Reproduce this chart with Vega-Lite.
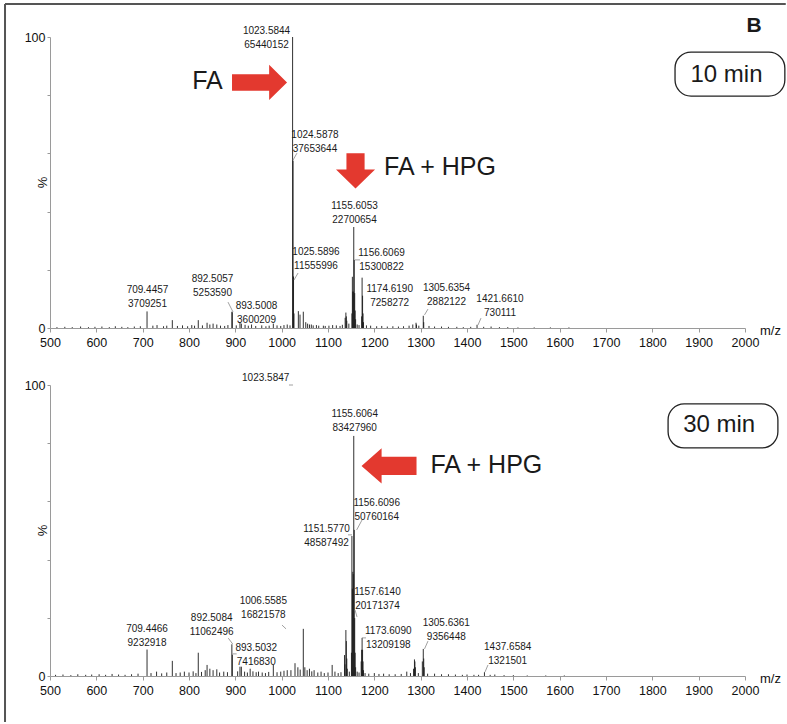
{
  "$schema": "https://vega.github.io/schema/vega-lite/v6.json",
  "padding": {"left": 4, "top": 3, "right": 0, "bottom": 1},
  "background": "white",
  "bounds": "flush",
  "spacing": 57,
  "config": {"view": {"stroke": null}, "font": "Liberation Sans"},
  "datasets": {
    "peaks": [
      {"panel":"10 min","mz":515,"pct":0.3},{"panel":"10 min","mz":532,"pct":0.4},{"panel":"10 min","mz":548,"pct":0.3},{"panel":"10 min","mz":566,"pct":0.5},{"panel":"10 min","mz":583,"pct":0.3},{"panel":"10 min","mz":597,"pct":0.4},{"panel":"10 min","mz":612,"pct":0.5},{"panel":"10 min","mz":628,"pct":0.3},{"panel":"10 min","mz":641,"pct":0.6},{"panel":"10 min","mz":655,"pct":0.4},{"panel":"10 min","mz":668,"pct":0.3},{"panel":"10 min","mz":682,"pct":0.5},{"panel":"10 min","mz":695,"pct":0.6},{"panel":"10 min","mz":709.4457,"pct":5.7},{"panel":"10 min","mz":722,"pct":0.8},{"panel":"10 min","mz":731,"pct":1.0},{"panel":"10 min","mz":745,"pct":0.6},{"panel":"10 min","mz":752,"pct":0.8},{"panel":"10 min","mz":764,"pct":2.7},{"panel":"10 min","mz":775,"pct":0.7},{"panel":"10 min","mz":786,"pct":0.9},{"panel":"10 min","mz":797,"pct":0.6},{"panel":"10 min","mz":806,"pct":1.0},{"panel":"10 min","mz":812,"pct":0.8},{"panel":"10 min","mz":820,"pct":2.7},{"panel":"10 min","mz":829,"pct":0.9},{"panel":"10 min","mz":839,"pct":1.8},{"panel":"10 min","mz":845,"pct":1.2},{"panel":"10 min","mz":852,"pct":1.5},{"panel":"10 min","mz":860,"pct":1.2},{"panel":"10 min","mz":868,"pct":0.8},{"panel":"10 min","mz":877,"pct":0.7},{"panel":"10 min","mz":884,"pct":1.0},{"panel":"10 min","mz":892.5057,"pct":5.6},{"panel":"10 min","mz":893.5008,"pct":5.4},{"panel":"10 min","mz":902,"pct":0.9},{"panel":"10 min","mz":910,"pct":2.0},{"panel":"10 min","mz":913,"pct":1.5},{"panel":"10 min","mz":921,"pct":1.1},{"panel":"10 min","mz":928,"pct":0.8},{"panel":"10 min","mz":935,"pct":1.2},{"panel":"10 min","mz":944,"pct":0.7},{"panel":"10 min","mz":957,"pct":0.9},{"panel":"10 min","mz":966,"pct":0.6},{"panel":"10 min","mz":973,"pct":0.8},{"panel":"10 min","mz":982,"pct":1.5},{"panel":"10 min","mz":990,"pct":0.9},{"panel":"10 min","mz":998,"pct":0.7},{"panel":"10 min","mz":1005,"pct":1.0},{"panel":"10 min","mz":1012,"pct":1.2},{"panel":"10 min","mz":1018,"pct":0.9},{"panel":"10 min","mz":1023.5844,"pct":100},{"panel":"10 min","mz":1024.5878,"pct":57.5},{"panel":"10 min","mz":1025.5896,"pct":17.7},{"panel":"10 min","mz":1026.6,"pct":5.0},{"panel":"10 min","mz":1036,"pct":5.8},{"panel":"10 min","mz":1039.6,"pct":4.6},{"panel":"10 min","mz":1046.7,"pct":5.6},{"panel":"10 min","mz":1052,"pct":2.0},{"panel":"10 min","mz":1056,"pct":1.5},{"panel":"10 min","mz":1060,"pct":1.2},{"panel":"10 min","mz":1064,"pct":1.2},{"panel":"10 min","mz":1068,"pct":0.9},{"panel":"10 min","mz":1075,"pct":1.0},{"panel":"10 min","mz":1080,"pct":0.8},{"panel":"10 min","mz":1090,"pct":0.8},{"panel":"10 min","mz":1094,"pct":0.7},{"panel":"10 min","mz":1102,"pct":0.8},{"panel":"10 min","mz":1110,"pct":1.0},{"panel":"10 min","mz":1118,"pct":0.9},{"panel":"10 min","mz":1126,"pct":0.7},{"panel":"10 min","mz":1131,"pct":1.1},{"panel":"10 min","mz":1137,"pct":3.5},{"panel":"10 min","mz":1138.6,"pct":5.3},{"panel":"10 min","mz":1139.6,"pct":4.0},{"panel":"10 min","mz":1140.6,"pct":2.5},{"panel":"10 min","mz":1145,"pct":1.5},{"panel":"10 min","mz":1151.6,"pct":5.0},{"panel":"10 min","mz":1152.6,"pct":17.6},{"panel":"10 min","mz":1153.6,"pct":12.5},{"panel":"10 min","mz":1154.6,"pct":12.5},{"panel":"10 min","mz":1155.6053,"pct":34.7},{"panel":"10 min","mz":1156.6069,"pct":23.4},{"panel":"10 min","mz":1157.6,"pct":12.0},{"panel":"10 min","mz":1158.6,"pct":6.0},{"panel":"10 min","mz":1159.6,"pct":3.0},{"panel":"10 min","mz":1163,"pct":1.2},{"panel":"10 min","mz":1167,"pct":1.0},{"panel":"10 min","mz":1172.6,"pct":4.0},{"panel":"10 min","mz":1173.6,"pct":17.3},{"panel":"10 min","mz":1174.619,"pct":11.1},{"panel":"10 min","mz":1175.6,"pct":5.0},{"panel":"10 min","mz":1176.6,"pct":2.0},{"panel":"10 min","mz":1183,"pct":0.9},{"panel":"10 min","mz":1192,"pct":0.8},{"panel":"10 min","mz":1205,"pct":0.6},{"panel":"10 min","mz":1216,"pct":0.7},{"panel":"10 min","mz":1228,"pct":0.5},{"panel":"10 min","mz":1240,"pct":0.6},{"panel":"10 min","mz":1252,"pct":0.5},{"panel":"10 min","mz":1263,"pct":0.6},{"panel":"10 min","mz":1275,"pct":0.8},{"panel":"10 min","mz":1283,"pct":1.2},{"panel":"10 min","mz":1290,"pct":1.8},{"panel":"10 min","mz":1291,"pct":1.2},{"panel":"10 min","mz":1296,"pct":0.8},{"panel":"10 min","mz":1305.6354,"pct":4.2},{"panel":"10 min","mz":1306.6,"pct":2.0},{"panel":"10 min","mz":1318,"pct":0.7},{"panel":"10 min","mz":1330,"pct":0.5},{"panel":"10 min","mz":1345,"pct":0.5},{"panel":"10 min","mz":1360,"pct":0.4},{"panel":"10 min","mz":1378,"pct":0.4},{"panel":"10 min","mz":1392,"pct":0.3},{"panel":"10 min","mz":1408,"pct":0.4},{"panel":"10 min","mz":1421.661,"pct":1.1},{"panel":"10 min","mz":1436,"pct":0.4},{"panel":"10 min","mz":1452,"pct":0.5},{"panel":"10 min","mz":1470,"pct":0.3},{"panel":"10 min","mz":1488,"pct":0.3},{"panel":"10 min","mz":1510,"pct":0.2},{"panel":"10 min","mz":1545,"pct":0.2},{"panel":"10 min","mz":1580,"pct":0.2},{"panel":"10 min","mz":1620,"pct":0.2},
      {"panel":"30 min","mz":512,"pct":0.4},{"panel":"30 min","mz":528,"pct":0.5},{"panel":"30 min","mz":545,"pct":0.3},{"panel":"30 min","mz":560,"pct":0.6},{"panel":"30 min","mz":577,"pct":0.4},{"panel":"30 min","mz":590,"pct":0.5},{"panel":"30 min","mz":606,"pct":0.6},{"panel":"30 min","mz":620,"pct":0.4},{"panel":"30 min","mz":634,"pct":0.7},{"panel":"30 min","mz":648,"pct":0.5},{"panel":"30 min","mz":662,"pct":0.4},{"panel":"30 min","mz":676,"pct":0.6},{"panel":"30 min","mz":690,"pct":0.8},{"panel":"30 min","mz":709.4466,"pct":9.1},{"panel":"30 min","mz":718,"pct":1.0},{"panel":"30 min","mz":730,"pct":1.5},{"panel":"30 min","mz":741,"pct":0.9},{"panel":"30 min","mz":752,"pct":1.2},{"panel":"30 min","mz":764,"pct":5.2},{"panel":"30 min","mz":772,"pct":1.0},{"panel":"30 min","mz":781,"pct":1.2},{"panel":"30 min","mz":790,"pct":1.5},{"panel":"30 min","mz":800,"pct":1.2},{"panel":"30 min","mz":809,"pct":1.6},{"panel":"30 min","mz":815,"pct":1.0},{"panel":"30 min","mz":820,"pct":8.0},{"panel":"30 min","mz":827,"pct":1.4},{"panel":"30 min","mz":835,"pct":2.0},{"panel":"30 min","mz":839,"pct":3.8},{"panel":"30 min","mz":845,"pct":2.5},{"panel":"30 min","mz":852,"pct":2.0},{"panel":"30 min","mz":860,"pct":2.3},{"panel":"30 min","mz":866,"pct":1.2},{"panel":"30 min","mz":875,"pct":1.5},{"panel":"30 min","mz":883,"pct":1.3},{"panel":"30 min","mz":892.5084,"pct":10.9},{"panel":"30 min","mz":893.5032,"pct":7.3},{"panel":"30 min","mz":905,"pct":1.6},{"panel":"30 min","mz":910,"pct":3.2},{"panel":"30 min","mz":913,"pct":3.2},{"panel":"30 min","mz":920,"pct":1.5},{"panel":"30 min","mz":926,"pct":1.2},{"panel":"30 min","mz":932,"pct":2.5},{"panel":"30 min","mz":938,"pct":1.6},{"panel":"30 min","mz":945,"pct":1.3},{"panel":"30 min","mz":950,"pct":1.5},{"panel":"30 min","mz":958,"pct":1.2},{"panel":"30 min","mz":965,"pct":1.0},{"panel":"30 min","mz":972,"pct":1.4},{"panel":"30 min","mz":982,"pct":3.8},{"panel":"30 min","mz":990,"pct":1.3},{"panel":"30 min","mz":998,"pct":1.5},{"panel":"30 min","mz":1005,"pct":1.8},{"panel":"30 min","mz":1012,"pct":2.0},{"panel":"30 min","mz":1020,"pct":2.0},{"panel":"30 min","mz":1028.8,"pct":4.4},{"panel":"30 min","mz":1035,"pct":3.0},{"panel":"30 min","mz":1040,"pct":2.2},{"panel":"30 min","mz":1046.7,"pct":16.2},{"panel":"30 min","mz":1050,"pct":3.0},{"panel":"30 min","mz":1055,"pct":2.0},{"panel":"30 min","mz":1060,"pct":2.5},{"panel":"30 min","mz":1065,"pct":1.6},{"panel":"30 min","mz":1070,"pct":2.0},{"panel":"30 min","mz":1078,"pct":1.2},{"panel":"30 min","mz":1085,"pct":1.5},{"panel":"30 min","mz":1092,"pct":1.0},{"panel":"30 min","mz":1100,"pct":1.2},{"panel":"30 min","mz":1109,"pct":3.8},{"panel":"30 min","mz":1115,"pct":1.5},{"panel":"30 min","mz":1122,"pct":1.0},{"panel":"30 min","mz":1128,"pct":1.3},{"panel":"30 min","mz":1135.6,"pct":7.2},{"panel":"30 min","mz":1136.6,"pct":4.0},{"panel":"30 min","mz":1138.6,"pct":15.8},{"panel":"30 min","mz":1139.6,"pct":12.0},{"panel":"30 min","mz":1140.6,"pct":6.0},{"panel":"30 min","mz":1141.6,"pct":2.5},{"panel":"30 min","mz":1146,"pct":1.5},{"panel":"30 min","mz":1150.6,"pct":8.0},{"panel":"30 min","mz":1151.577,"pct":48.1},{"panel":"30 min","mz":1152.6,"pct":30.0},{"panel":"30 min","mz":1153.6,"pct":35.8},{"panel":"30 min","mz":1154.6,"pct":35.0},{"panel":"30 min","mz":1155.6064,"pct":82.5},{"panel":"30 min","mz":1156.6096,"pct":50.2},{"panel":"30 min","mz":1157.614,"pct":19.9},{"panel":"30 min","mz":1158.6,"pct":8.0},{"panel":"30 min","mz":1159.6,"pct":3.0},{"panel":"30 min","mz":1163,"pct":1.5},{"panel":"30 min","mz":1167,"pct":1.2},{"panel":"30 min","mz":1171.6,"pct":5.0},{"panel":"30 min","mz":1172.6,"pct":9.0},{"panel":"30 min","mz":1173.609,"pct":13.1},{"panel":"30 min","mz":1174.6,"pct":9.0},{"panel":"30 min","mz":1175.6,"pct":5.0},{"panel":"30 min","mz":1176.6,"pct":2.0},{"panel":"30 min","mz":1180,"pct":1.0},{"panel":"30 min","mz":1188,"pct":0.8},{"panel":"30 min","mz":1200,"pct":1.0},{"panel":"30 min","mz":1210,"pct":0.7},{"panel":"30 min","mz":1220,"pct":0.8},{"panel":"30 min","mz":1232,"pct":0.6},{"panel":"30 min","mz":1245,"pct":0.6},{"panel":"30 min","mz":1258,"pct":0.7},{"panel":"30 min","mz":1270,"pct":1.5},{"panel":"30 min","mz":1278,"pct":1.0},{"panel":"30 min","mz":1284.6,"pct":2.5},{"panel":"30 min","mz":1286.6,"pct":5.7},{"panel":"30 min","mz":1287.6,"pct":5.0},{"panel":"30 min","mz":1288.6,"pct":3.0},{"panel":"30 min","mz":1295,"pct":1.0},{"panel":"30 min","mz":1303.6,"pct":5.0},{"panel":"30 min","mz":1305.6361,"pct":9.3},{"panel":"30 min","mz":1306.6,"pct":6.0},{"panel":"30 min","mz":1307.6,"pct":3.0},{"panel":"30 min","mz":1315,"pct":0.8},{"panel":"30 min","mz":1330,"pct":0.8},{"panel":"30 min","mz":1345,"pct":0.6},{"panel":"30 min","mz":1360,"pct":0.6},{"panel":"30 min","mz":1375,"pct":0.5},{"panel":"30 min","mz":1390,"pct":0.4},{"panel":"30 min","mz":1400,"pct":0.5},{"panel":"30 min","mz":1415,"pct":0.4},{"panel":"30 min","mz":1425,"pct":0.4},{"panel":"30 min","mz":1437.6584,"pct":1.3},{"panel":"30 min","mz":1450,"pct":0.4},{"panel":"30 min","mz":1460,"pct":0.5},{"panel":"30 min","mz":1480,"pct":0.3},{"panel":"30 min","mz":1500,"pct":0.3},{"panel":"30 min","mz":1530,"pct":0.2},{"panel":"30 min","mz":1570,"pct":0.2},{"panel":"30 min","mz":1610,"pct":0.2}
    ],
    "labels": [
      {"panel":"10 min","mz_text":"1023.5844","int_text":"65440152","lx":967.3,"ly":102.2},
      {"panel":"10 min","mz_text":"1024.5878","int_text":"37653644","lx":1071.9,"ly":66.3},
      {"panel":"10 min","mz_text":"1155.6053","int_text":"22700654","lx":1157.2,"ly":42.0},
      {"panel":"10 min","mz_text":"1025.5896","int_text":"11555996","lx":1074.1,"ly":26.2},
      {"panel":"10 min","mz_text":"1156.6069","int_text":"15300822","lx":1215.5,"ly":25.8},
      {"panel":"10 min","mz_text":"1174.6190","int_text":"7258272","lx":1233.2,"ly":13.4},
      {"panel":"10 min","mz_text":"1305.6354","int_text":"2882122","lx":1355.8,"ly":13.6},
      {"panel":"10 min","mz_text":"1421.6610","int_text":"730111","lx":1471.2,"ly":9.9},
      {"panel":"10 min","mz_text":"709.4457","int_text":"3709251","lx":710.4,"ly":13.1},
      {"panel":"10 min","mz_text":"892.5057","int_text":"5253590","lx":850.7,"ly":16.8},
      {"panel":"10 min","mz_text":"893.5008","int_text":"3600209","lx":945.7,"ly":7.6},
      {"panel":"30 min","mz_text":"1023.5847","int_text":"","lx":965.5,"ly":102.3},
      {"panel":"30 min","mz_text":"1155.6064","int_text":"83427960","lx":1157.6,"ly":89.9},
      {"panel":"30 min","mz_text":"1156.6096","int_text":"50760164","lx":1205.1,"ly":59.3},
      {"panel":"30 min","mz_text":"1151.5770","int_text":"48587492","lx":1096.8,"ly":50.5},
      {"panel":"30 min","mz_text":"1157.6140","int_text":"20171374","lx":1206.8,"ly":29.0},
      {"panel":"30 min","mz_text":"1173.6090","int_text":"13209198","lx":1230.1,"ly":15.6},
      {"panel":"30 min","mz_text":"1305.6361","int_text":"9356448","lx":1355.3,"ly":18.1},
      {"panel":"30 min","mz_text":"1437.6584","int_text":"1321501","lx":1487.8,"ly":10.1},
      {"panel":"30 min","mz_text":"709.4466","int_text":"9232918","lx":709.4,"ly":16.2},
      {"panel":"30 min","mz_text":"892.5084","int_text":"11062496","lx":849.0,"ly":19.8},
      {"panel":"30 min","mz_text":"893.5032","int_text":"7416830","lx":945.2,"ly":9.7},
      {"panel":"30 min","mz_text":"1006.5585","int_text":"16821578","lx":960.4,"ly":25.8}
    ],
    "leaders": [
      {"panel":"10 min","x1":1024.5,"y1":57.7,"x2":1033.1,"y2":60.1},
      {"panel":"10 min","x1":1026.6,"y1":16.5,"x2":1035.4,"y2":18.9},
      {"panel":"10 min","x1":1158.3,"y1":23.4,"x2":1169.1,"y2":23.4},
      {"panel":"10 min","x1":884.2,"y1":8.9,"x2":895.0,"y2":5.5},
      {"panel":"10 min","x1":1308.3,"y1":4.5,"x2":1315.8,"y2":6.5},
      {"panel":"10 min","x1":1423.7,"y1":1.0,"x2":1430.2,"y2":3.4},
      {"panel":"30 min","x1":1015.8,"y1":100.0,"x2":1024.5,"y2":100.0},
      {"panel":"30 min","x1":1161.9,"y1":50.2,"x2":1173.4,"y2":53.6},
      {"panel":"30 min","x1":1143.2,"y1":48.5,"x2":1151.8,"y2":48.5},
      {"panel":"30 min","x1":1162.6,"y1":20.3,"x2":1158.3,"y2":22.7},
      {"panel":"30 min","x1":1182.0,"y1":13.1,"x2":1173.4,"y2":13.1},
      {"panel":"30 min","x1":1308.3,"y1":9.3,"x2":1315.8,"y2":12.0},
      {"panel":"30 min","x1":1438.9,"y1":1.4,"x2":1445.3,"y2":3.8},
      {"panel":"30 min","x1":884.8,"y1":13.0,"x2":894.3,"y2":11.0},
      {"panel":"30 min","x1":894.3,"y1":7.6,"x2":902.9,"y2":7.6},
      {"panel":"30 min","x1":1000.7,"y1":17.5,"x2":1009.4,"y2":16.2}
    ],
    "arrows": [
      {"panel":"10 min","dir":"right","x":952.2,"y":84.4},
      {"panel":"10 min","dir":"down","x":1159.4,"y":54.0},
      {"panel":"30 min","dir":"left","x":1231.7,"y":72.2}
    ],
    "notes": [
      {"panel":"10 min","role":"species","text":"FA","x":839.9,"y":84.9},
      {"panel":"10 min","role":"species","text":"FA + HPG","x":1341.7,"y":55.2},
      {"panel":"10 min","role":"time","text":"10 min","x":1960.1,"y":87.1},
      {"panel":"10 min","role":"letter","text":"B","x":2019.4,"y":103.9},
      {"panel":"30 min","role":"species","text":"FA + HPG","x":1441.7,"y":72.5},
      {"panel":"30 min","role":"time","text":"30 min","x":1944.3,"y":86.2}
    ],
    "boxes": [
      {"panel":"10 min","x1":1849,"x2":2086,"y1":94.8,"y2":79.7},
      {"panel":"30 min","x1":1834,"x2":2071,"y1":93.5,"y2":78.4}
    ],
    "frame": [
      {"side":"top","x1":402.9,"x2":2088.0,"y1":111.3,"y2":111.3},
      {"side":"left","x1":402.9,"x2":402.9,"y1":111.3,"y2":-135.4}
    ]
  },
  "vconcat": [
    {
      "width": 695, "height": 291,
      "layer": [
        {"data":{"name":"peaks"},"transform":[{"filter":"datum.panel == '10 min'"}],
         "mark":{"type":"rule","color":"#1a1a1a","strokeWidth":0.9},
         "encoding":{
           "x":{"field":"mz","type":"quantitative","scale":{"domain":[500,2000],"nice":false,"zero":false},
                "axis":{"values":[500,600,700,800,900,1000,1100,1200,1300,1400,1500,1600,1700,1800,1900,2000],"format":"d","title":"m/z","titleX":720,"titleY":2,"titleAlign":"center","titleBaseline":"middle","titleFontWeight":"normal","titleFontSize":13,"titleFont":"Liberation Sans","titleColor":"#111","labelFont":"Liberation Sans","labelFontSize":12.5,"labelColor":"#111","domainColor":"#9a9a9a","tickColor":"#9a9a9a","tickSize":4,"labelPadding":4,"grid":false,"labelFlush":false,"labelOverlap":false}},
           "y":{"field":"pct","type":"quantitative","scale":{"domain":[0,100],"nice":false},
                "axis":{"values":[0,10,20,30,40,50,60,70,80,90,100],"labelExpr":"datum.value == 0 || datum.value == 100 ? datum.label : ''","title":"%","titleX":-8,"titleY":145,"titleAlign":"center","titleBaseline":"middle","titleFontWeight":"normal","titleFontSize":13,"titleFont":"Liberation Sans","titleColor":"#111","labelFont":"Liberation Sans","labelFontSize":12.5,"labelColor":"#111","domainColor":"#9a9a9a","tickColor":"#9a9a9a","tickSize":3,"labelPadding":2,"grid":false}},
           "y2":{"datum":0}}},
        {"data":{"name":"frame"},
         "mark":{"type":"rule","color":"#555","strokeWidth":2},
         "encoding":{"x":{"field":"x1","type":"quantitative","scale":{"domain":[500,2000],"nice":false,"zero":false}},"x2":{"field":"x2"},"y":{"field":"y1","type":"quantitative","scale":{"domain":[0,100],"nice":false}},"y2":{"field":"y2"}}},
        {"data":{"name":"boxes"},"transform":[{"filter":"datum.panel == '10 min'"}],
         "mark":{"type":"rect","cornerRadius":16,"fill":"white","stroke":"#222","strokeWidth":1.3},
         "encoding":{"x":{"field":"x1","type":"quantitative","scale":{"domain":[500,2000],"nice":false,"zero":false}},"x2":{"field":"x2"},"y":{"field":"y1","type":"quantitative","scale":{"domain":[0,100],"nice":false}},"y2":{"field":"y2"}}},
        {"data":{"name":"leaders"},"transform":[{"filter":"datum.panel == '10 min'"}],
         "mark":{"type":"rule","color":"#888","strokeWidth":0.8},
         "encoding":{"x":{"field":"x1","type":"quantitative","scale":{"domain":[500,2000],"nice":false,"zero":false}},"x2":{"field":"x2"},"y":{"field":"y1","type":"quantitative","scale":{"domain":[0,100],"nice":false}},"y2":{"field":"y2"}}},
        {"data":{"name":"labels"},"transform":[{"filter":"datum.panel == '10 min'"}],
         "mark":{"type":"text","font":"Liberation Sans","fontSize":10,"color":"#1a1a1a","align":"center","baseline":"middle"},
         "encoding":{"x":{"field":"lx","type":"quantitative","scale":{"domain":[500,2000],"nice":false,"zero":false}},"y":{"field":"ly","type":"quantitative","scale":{"domain":[0,100],"nice":false}},"text":{"field":"mz_text","type":"nominal"}}},
        {"data":{"name":"labels"},"transform":[{"filter":"datum.panel == '10 min'"}],
         "mark":{"type":"text","font":"Liberation Sans","fontSize":10,"color":"#1a1a1a","align":"center","baseline":"middle","dy":14},
         "encoding":{"x":{"field":"lx","type":"quantitative","scale":{"domain":[500,2000],"nice":false,"zero":false}},"y":{"field":"ly","type":"quantitative","scale":{"domain":[0,100],"nice":false}},"text":{"field":"int_text","type":"nominal"}}},
        {"data":{"name":"arrows"},"transform":[{"filter":"datum.panel == '10 min'"}],
         "mark":{"type":"point","filled":true,"size":3025,"color":"#e3392f","opacity":1,"strokeWidth":0},
         "encoding":{"x":{"field":"x","type":"quantitative","scale":{"domain":[500,2000],"nice":false,"zero":false}},"y":{"field":"y","type":"quantitative","scale":{"domain":[0,100],"nice":false}},
           "shape":{"field":"dir","type":"nominal","legend":null,"scale":{"domain":["right","down","left"],"range":["M-1,-0.3 L0.35,-0.3 L0.35,-0.64 L1,0 L0.35,0.64 L0.35,0.3 L-1,0.3 Z","M-0.33,-0.64 L0.33,-0.64 L0.33,-0.05 L0.71,-0.05 L0,0.64 L-0.71,-0.05 L-0.33,-0.05 Z","M1,-0.33 L-0.27,-0.33 L-0.27,-0.64 L-1,0 L-0.27,0.64 L-0.27,0.33 L1,0.33 Z"]}}}},
        {"data":{"name":"notes"},"transform":[{"filter":"datum.panel == '10 min' && datum.role == 'species'"}],
         "mark":{"type":"text","font":"Liberation Sans","fontSize":25,"color":"#1a1a1a","align":"center","baseline":"middle"},
         "encoding":{"x":{"field":"x","type":"quantitative","scale":{"domain":[500,2000],"nice":false,"zero":false}},"y":{"field":"y","type":"quantitative","scale":{"domain":[0,100],"nice":false}},"text":{"field":"text","type":"nominal"}}},
        {"data":{"name":"notes"},"transform":[{"filter":"datum.panel == '10 min' && datum.role == 'time'"}],
         "mark":{"type":"text","font":"Liberation Sans","fontSize":24,"color":"#1a1a1a","align":"center","baseline":"middle"},
         "encoding":{"x":{"field":"x","type":"quantitative","scale":{"domain":[500,2000],"nice":false,"zero":false}},"y":{"field":"y","type":"quantitative","scale":{"domain":[0,100],"nice":false}},"text":{"field":"text","type":"nominal"}}},
        {"data":{"name":"notes"},"transform":[{"filter":"datum.panel == '10 min' && datum.role == 'letter'"}],
         "mark":{"type":"text","font":"Liberation Sans","fontSize":21,"fontWeight":"bold","color":"#1a1a1a","align":"center","baseline":"middle"},
         "encoding":{"x":{"field":"x","type":"quantitative","scale":{"domain":[500,2000],"nice":false,"zero":false}},"y":{"field":"y","type":"quantitative","scale":{"domain":[0,100],"nice":false}},"text":{"field":"text","type":"nominal"}}}
      ]
    },
    {
      "width": 695, "height": 291,
      "layer": [
        {"data":{"name":"peaks"},"transform":[{"filter":"datum.panel == '30 min'"}],
         "mark":{"type":"rule","color":"#1a1a1a","strokeWidth":0.9},
         "encoding":{
           "x":{"field":"mz","type":"quantitative","scale":{"domain":[500,2000],"nice":false,"zero":false},
                "axis":{"values":[500,600,700,800,900,1000,1100,1200,1300,1400,1500,1600,1700,1800,1900,2000],"format":"d","title":"m/z","titleX":720,"titleY":2,"titleAlign":"center","titleBaseline":"middle","titleFontWeight":"normal","titleFontSize":13,"titleFont":"Liberation Sans","titleColor":"#111","labelFont":"Liberation Sans","labelFontSize":12.5,"labelColor":"#111","domainColor":"#9a9a9a","tickColor":"#9a9a9a","tickSize":4,"labelPadding":4,"grid":false,"labelFlush":false,"labelOverlap":false}},
           "y":{"field":"pct","type":"quantitative","scale":{"domain":[0,100],"nice":false},
                "axis":{"values":[0,10,20,30,40,50,60,70,80,90,100],"labelExpr":"datum.value == 0 || datum.value == 100 ? datum.label : ''","title":"%","titleX":-8,"titleY":145,"titleAlign":"center","titleBaseline":"middle","titleFontWeight":"normal","titleFontSize":13,"titleFont":"Liberation Sans","titleColor":"#111","labelFont":"Liberation Sans","labelFontSize":12.5,"labelColor":"#111","domainColor":"#9a9a9a","tickColor":"#9a9a9a","tickSize":3,"labelPadding":2,"grid":false}},
           "y2":{"datum":0}}},
        {"data":{"name":"boxes"},"transform":[{"filter":"datum.panel == '30 min'"}],
         "mark":{"type":"rect","cornerRadius":16,"fill":"white","stroke":"#222","strokeWidth":1.3},
         "encoding":{"x":{"field":"x1","type":"quantitative","scale":{"domain":[500,2000],"nice":false,"zero":false}},"x2":{"field":"x2"},"y":{"field":"y1","type":"quantitative","scale":{"domain":[0,100],"nice":false}},"y2":{"field":"y2"}}},
        {"data":{"name":"leaders"},"transform":[{"filter":"datum.panel == '30 min'"}],
         "mark":{"type":"rule","color":"#888","strokeWidth":0.8},
         "encoding":{"x":{"field":"x1","type":"quantitative","scale":{"domain":[500,2000],"nice":false,"zero":false}},"x2":{"field":"x2"},"y":{"field":"y1","type":"quantitative","scale":{"domain":[0,100],"nice":false}},"y2":{"field":"y2"}}},
        {"data":{"name":"labels"},"transform":[{"filter":"datum.panel == '30 min'"}],
         "mark":{"type":"text","font":"Liberation Sans","fontSize":10,"color":"#1a1a1a","align":"center","baseline":"middle"},
         "encoding":{"x":{"field":"lx","type":"quantitative","scale":{"domain":[500,2000],"nice":false,"zero":false}},"y":{"field":"ly","type":"quantitative","scale":{"domain":[0,100],"nice":false}},"text":{"field":"mz_text","type":"nominal"}}},
        {"data":{"name":"labels"},"transform":[{"filter":"datum.panel == '30 min'"}],
         "mark":{"type":"text","font":"Liberation Sans","fontSize":10,"color":"#1a1a1a","align":"center","baseline":"middle","dy":14},
         "encoding":{"x":{"field":"lx","type":"quantitative","scale":{"domain":[500,2000],"nice":false,"zero":false}},"y":{"field":"ly","type":"quantitative","scale":{"domain":[0,100],"nice":false}},"text":{"field":"int_text","type":"nominal"}}},
        {"data":{"name":"arrows"},"transform":[{"filter":"datum.panel == '30 min'"}],
         "mark":{"type":"point","filled":true,"size":3025,"color":"#e3392f","opacity":1,"strokeWidth":0},
         "encoding":{"x":{"field":"x","type":"quantitative","scale":{"domain":[500,2000],"nice":false,"zero":false}},"y":{"field":"y","type":"quantitative","scale":{"domain":[0,100],"nice":false}},
           "shape":{"field":"dir","type":"nominal","legend":null,"scale":{"domain":["right","down","left"],"range":["M-1,-0.3 L0.35,-0.3 L0.35,-0.64 L1,0 L0.35,0.64 L0.35,0.3 L-1,0.3 Z","M-0.33,-0.64 L0.33,-0.64 L0.33,-0.05 L0.71,-0.05 L0,0.64 L-0.71,-0.05 L-0.33,-0.05 Z","M1,-0.33 L-0.27,-0.33 L-0.27,-0.64 L-1,0 L-0.27,0.64 L-0.27,0.33 L1,0.33 Z"]}}}},
        {"data":{"name":"notes"},"transform":[{"filter":"datum.panel == '30 min' && datum.role == 'species'"}],
         "mark":{"type":"text","font":"Liberation Sans","fontSize":25,"color":"#1a1a1a","align":"center","baseline":"middle"},
         "encoding":{"x":{"field":"x","type":"quantitative","scale":{"domain":[500,2000],"nice":false,"zero":false}},"y":{"field":"y","type":"quantitative","scale":{"domain":[0,100],"nice":false}},"text":{"field":"text","type":"nominal"}}},
        {"data":{"name":"notes"},"transform":[{"filter":"datum.panel == '30 min' && datum.role == 'time'"}],
         "mark":{"type":"text","font":"Liberation Sans","fontSize":24,"color":"#1a1a1a","align":"center","baseline":"middle"},
         "encoding":{"x":{"field":"x","type":"quantitative","scale":{"domain":[500,2000],"nice":false,"zero":false}},"y":{"field":"y","type":"quantitative","scale":{"domain":[0,100],"nice":false}},"text":{"field":"text","type":"nominal"}}}
      ]
    }
  ]
}
